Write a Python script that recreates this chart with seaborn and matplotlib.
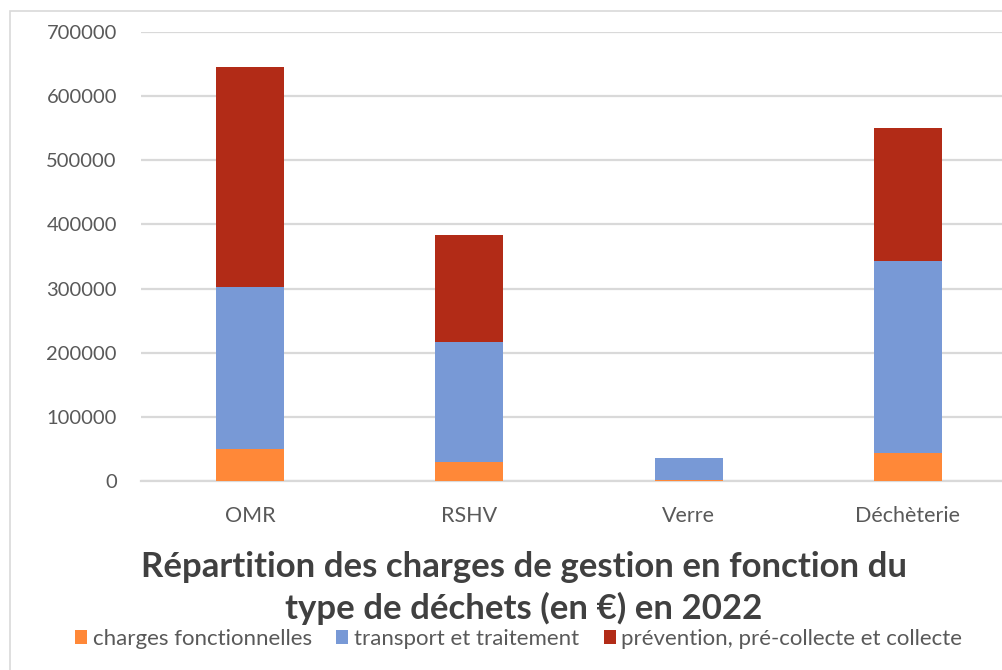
import matplotlib
matplotlib.use("Agg")
import matplotlib.pyplot as plt
from matplotlib.patches import Rectangle, Patch
import numpy as np
import seaborn as sns

categories = ["OMR", "RSHV", "Verre", "Déchèterie"]
series_names = [
    "charges fonctionnelles",
    "transport et traitement",
    "prévention, pré-collecte et collecte",
]
charges_fonctionnelles = [50000, 30000, 1500, 43500]
transport_traitement = [252500, 187000, 34500, 299500]
prevention_collecte = [343000, 167000, 0, 207500]
colors = ["#FF8838", "#7899D6", "#B22B17"]

title = "Répartition des charges de gestion en fonction du\ntype de déchets (en €) en 2022"

sns.set_theme(style="white")
plt.rcParams["font.family"] = ["Lato", "DejaVu Sans"]

fig = plt.figure(figsize=(10.03, 6.70), dpi=100)
ax = fig.add_axes([140.5 / 1003, 1 - 481 / 670, 877 / 1003, 449 / 670])

bottom = np.zeros(len(categories))
for name, vals, col in zip(series_names,
                           [charges_fonctionnelles, transport_traitement, prevention_collecte],
                           colors):
    sns.barplot(x=categories, y=vals, bottom=bottom, color=col, width=0.31,
                saturation=1, linewidth=0, ax=ax, zorder=3)
    bottom = bottom + np.array(vals)

ax.set_ylim(0, 700000)
ax.set_xlim(-0.5, 3.5)
ax.set_yticks(range(0, 700001, 100000))
ax.set_yticklabels([str(v) for v in range(0, 700001, 100000)])
ax.yaxis.grid(True, color="#D9D9D9", linewidth=1.6, zorder=0)
ax.set_axisbelow(True)
for s in ["top", "right", "left"]:
    ax.spines[s].set_visible(False)
ax.spines["bottom"].set_color("#D9D9D9")
ax.spines["bottom"].set_linewidth(1.6)
ax.tick_params(axis="y", length=0, pad=17, labelsize=14.5, labelcolor="#595959")
ax.tick_params(axis="x", length=0, pad=18, labelsize=15.5, labelcolor="#595959")
ax.set_xlabel("")
ax.set_ylabel("")

fig.text(0.522, 1 - 588 / 670, title, ha="center", va="center", fontsize=25,
         fontweight="bold", color="#404040", linespacing=1.32)

handles = [Patch(facecolor=c, edgecolor="none", label=n) for c, n in zip(colors, series_names)]
fig.legend(handles=handles, loc="center", bbox_to_anchor=(0.517, 1 - 639 / 670),
           ncol=3, frameon=False, fontsize=16, labelcolor="#595959",
           handlelength=0.55, handleheight=0.55, handletextpad=0.25, columnspacing=1.1,
           borderaxespad=0, borderpad=0)

fig.patches.append(Rectangle((10 / 1003, -0.1), 1.2, 1.1 - 11 / 670,
                             transform=fig.transFigure, fill=False,
                             edgecolor="#D9D9D9", linewidth=1.2))

fig.savefig("out.png", dpi=100)
